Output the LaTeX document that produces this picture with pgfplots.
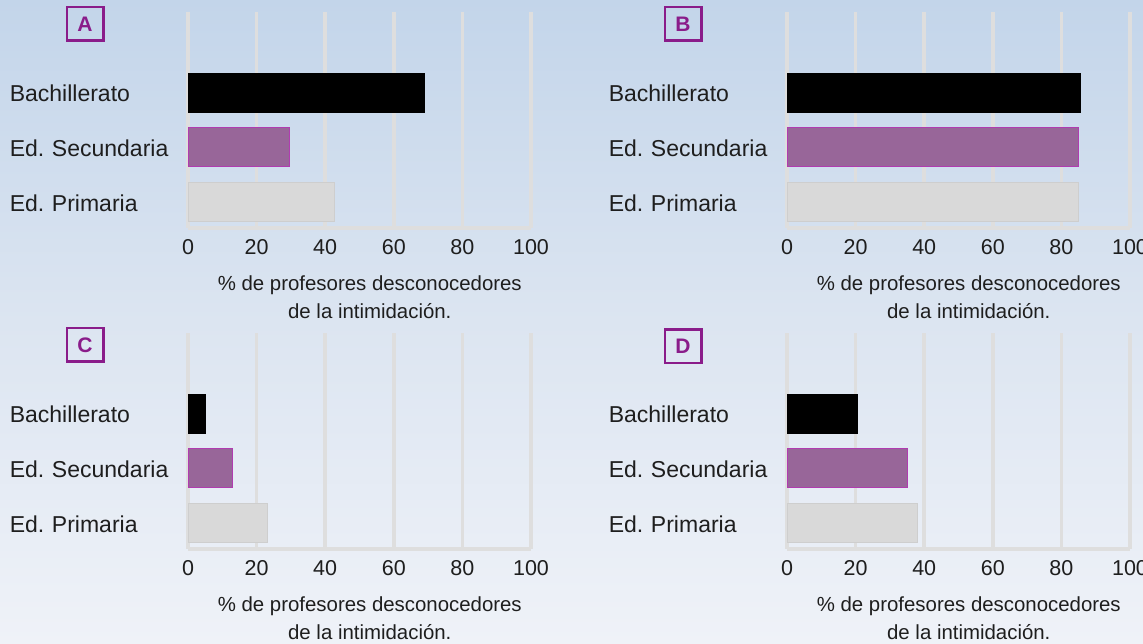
\documentclass[border=0pt]{standalone}
\usepackage{fontspec}
\setmainfont{Liberation Sans}
\usepackage{pgfplots}
\pgfplotsset{compat=1.18}
\definecolor{bgtop}{HTML}{C3D5EA}
\definecolor{bgmid}{HTML}{DCE5F1}
\definecolor{bgbot}{HTML}{EFF2F8}
\definecolor{gridc}{HTML}{DEDEDE}
\definecolor{secfill}{HTML}{986699}
\definecolor{secdraw}{HTML}{B03CB0}
\definecolor{prifill}{HTML}{D9D9D9}
\definecolor{boxpurple}{HTML}{8A1C8A}
\definecolor{txt}{HTML}{1E1E1E}
\tikzset{
  bach/.style={fill=black, draw=black},
  sec/.style={fill=secfill, draw=secdraw, line width=0.8pt},
  pri/.style={fill=prifill, draw=prifill!95!black},
  lbl/.style={draw=boxpurple, line width=2.5pt, minimum width=36.5pt, minimum height=33.5pt, inner sep=0pt, text=boxpurple, font=\bfseries\fontsize{21}{21}\selectfont},
}
\pgfplotsset{
  panel/.style={
    xbar, scale only axis, width=343pt, height=216pt,
    anchor=south west,
    xmin=0, xmax=100, ymin=-0.475, ymax=3.47,
    xtick={0,20,...,100}, ytick={0,1,2},
    yticklabels={Ed.\ Primaria, Ed.\ Secundaria, Bachillerato},
    xmajorgrids, grid style={draw=gridc, line width=3.5pt},
    axis lines*=left,
    axis line style={-},
    x axis line style={draw=gridc, line width=3.5pt},
    y axis line style={draw=none},
    major tick length=0pt, tick style={draw=none},
    bar width=39pt, bar shift=0pt,
    yticklabel style={font=\fontsize{23}{27}\selectfont, text=txt, inner sep=0pt, text width=178pt, align=left, yshift=-1pt},
    xticklabel style={font=\fontsize{21.5}{25}\selectfont, text=txt, inner sep=0pt, yshift=-11pt},
    /pgf/number format/assume math mode=true,
    xlabel={\% de profesores desconocedores\\de la intimidación.},
    xlabel style={font=\fontsize{20.4}{28}\selectfont, text=txt, align=center, at={(rel axis cs:0.53,0)}, anchor=north, yshift=-44pt},
    clip=false,
  },
}
\begin{document}
\begin{tikzpicture}
\useasboundingbox (0,0) rectangle (1143pt,644pt);
\clip (0,0) rectangle (1143pt,644pt);
\shade[top color=bgtop, bottom color=bgbot, middle color=bgmid] (0,0) rectangle (1143pt,644pt);

% Panel A
\begin{axis}[panel, at={(188pt,416pt)}]
\addplot[bach] coordinates {(69,2)};
\addplot[sec] coordinates {(29.5,1)};
\addplot[pri] coordinates {(42.5,0)};
\end{axis}
% Panel B
\begin{axis}[panel, at={(787pt,416pt)}]
\addplot[bach] coordinates {(85.5,2)};
\addplot[sec] coordinates {(85,1)};
\addplot[pri] coordinates {(85,0)};
\end{axis}
% Panel C
\begin{axis}[panel, at={(188pt,95pt)}]
\addplot[bach] coordinates {(5,2)};
\addplot[sec] coordinates {(13,1)};
\addplot[pri] coordinates {(23.2,0)};
\end{axis}
% Panel D
\begin{axis}[panel, at={(787pt,95pt)}]
\addplot[bach] coordinates {(20.4,2)};
\addplot[sec] coordinates {(35,1)};
\addplot[pri] coordinates {(38,0)};
\end{axis}

\node[lbl] at (85pt,620pt) {A};
\node[lbl] at (683pt,620pt) {B};
\node[lbl] at (85pt,299pt) {C};
\node[lbl] at (683pt,297.5pt) {D};
\end{tikzpicture}
\end{document}
